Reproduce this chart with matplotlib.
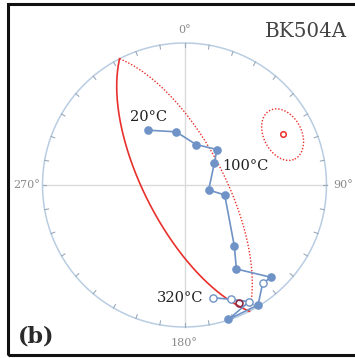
import numpy as np
import matplotlib.pyplot as plt
from matplotlib.patches import Rectangle

# demagnetisation steps (deg C), declination and inclination (negative = upper hemisphere)
temps = [20, 40, 60, 80, 100, 120, 140, 160, 180, 200, 220, 240, 260, 280, 300, 320]
decs = [326.3, 351.0, 15.9, 42.4, 54.1, 101.6, 103.9, 140.7, 148.3, 136.8,
        141.5, 148.5, 161.9, 151.0, 157.9, 166.0]
incs = [51.7, 58.9, 65.8, 62.3, 68.9, 75.9, 66.2, 43.9, 31.1, 11.8,
        -12.6, 1.0, 0.5, -6.7, -14.2, -19.3]
labelled = [20, 100, 320]

# remagnetisation circle pole and its confidence cone
pole_dec, pole_inc, pole_a95 = 62.8, 22.8, 13.0
# mean direction (open ring)
mean_dec, mean_inc = 155.1, -9.0

BLUE = '#6f93c6'
RED = '#e8302c'


def eqarea(dec, inc):
    d = np.radians(dec)
    i = np.radians(np.abs(inc))
    r = np.sqrt(1 - np.sin(i))
    return r * np.sin(d), r * np.cos(d)


def vec(dec, inc):
    d, i = np.radians(dec), np.radians(inc)
    return np.array([np.cos(i) * np.cos(d), np.cos(i) * np.sin(d), np.sin(i)])


def to_dirs(v):
    dec = np.degrees(np.arctan2(v[1], v[0])) % 360
    inc = np.degrees(np.arcsin(np.clip(v[2], -1, 1)))
    return dec, inc


fig = plt.figure(figsize=(3.55, 3.58), dpi=100)
R = 142.0
cx, cy = 184.5, 185.0
ax = fig.add_axes([0, 0, 1, 1])
ax.set_xlim(-cx / R, (355 - cx) / R)
ax.set_ylim((cy - 358) / R, cy / R)
ax.set_aspect('equal')
ax.axis('off')

# primitive, crosshair, ticks
t = np.linspace(0, 2 * np.pi, 400)
ax.plot(np.cos(t), np.sin(t), color='#b9cde2', lw=1.1, zorder=2)
ax.plot([-1, 1], [0, 0], color='#dadada', lw=1.0, zorder=1)
ax.plot([0, 0], [-1, 1], color='#dadada', lw=1.0, zorder=1)
for az in range(0, 360, 10):
    a = np.radians(az)
    ax.plot([0.972 * np.sin(a), np.sin(a)], [0.972 * np.cos(a), np.cos(a)],
            color='#9aaabb', lw=0.8, zorder=2)

lab = dict(color='#8a8a8a', fontsize=8, family='DejaVu Serif', ha='center', va='center')
ax.text(0, 1.09, '0°', **lab)
ax.text(1.115, 0, '90°', **lab)
ax.text(0, -1.113, '180°', **lab)
ax.text(-1.115, 0, '270°', **lab)

# great circle of the pole: lower half solid, upper half dotted
p = vec(pole_dec, pole_inc)
a = np.array([-np.sin(np.radians(pole_dec)), np.cos(np.radians(pole_dec)), 0.0])
b = np.cross(p, a)
for lo, hi in [(0, np.pi), (np.pi, 2 * np.pi)]:
    tt = np.linspace(lo, hi, 300)
    v = np.outer(a, np.cos(tt)) + np.outer(b, np.sin(tt))
    gd, gi = to_dirs(v)
    x, y = eqarea(gd, gi)
    if np.mean(gi) >= 0:
        ax.plot(x, y, color=RED, lw=1.2, zorder=3)
    else:
        ax.plot(x, y, color=RED, lw=1.0, ls=(0, (1, 1.3)), zorder=3)

# confidence cone around pole
al = np.radians(pole_a95)
tt = np.linspace(0, 2 * np.pi, 200)
v = np.outer(p, np.full_like(tt, np.cos(al))) + np.sin(al) * (np.outer(a, np.cos(tt)) + np.outer(b, np.sin(tt)))
ed, ei = to_dirs(v)
x, y = eqarea(ed, ei)
ax.plot(x, y, color=RED, lw=1.0, ls=(0, (1, 1.3)), zorder=3)
px, py = eqarea(pole_dec, pole_inc)
ax.plot(px, py, 'o', ms=4, mfc='white', mec=RED, mew=1.1, zorder=5)

# demag path
xs, ys = eqarea(np.array(decs), np.array(incs))
ax.plot(xs, ys, color=BLUE, lw=1.2, zorder=4)
for xi, yi, inc in zip(xs, ys, incs):
    if inc >= 0:
        ax.plot(xi, yi, 'o', ms=5.2, mfc=BLUE, mec=BLUE, zorder=5)
    else:
        ax.plot(xi, yi, 'o', ms=5.2, mfc='white', mec=BLUE, mew=1.0, zorder=5)

mx, my = eqarea(mean_dec, mean_inc)
ax.plot(mx, my, 'o', ms=5, mfc='none', mec='#8e2a45', mew=1.2, zorder=6)

offsets = {20: ((0.5, 9.5), 'center'), 100: ((6, -2), 'left'), 320: ((-6.5, 0), 'right')}
for T in labelled:
    k = temps.index(T)
    off, ha = offsets[T]
    ax.annotate(f'{T}°C', (xs[k], ys[k]), xytext=off, textcoords='offset points',
                ha=ha, va='center', fontsize=10.5, family='DejaVu Serif', color='#222222')

fig.text(0.977, 0.913, 'BK504A', ha='right', va='center', fontsize=14.3,
         family='DejaVu Serif', color='#444444')
fig.text(0.103, 0.06, '(b)', ha='center', va='center', fontsize=16,
         family='DejaVu Serif', weight='bold', color='#2a2a2a')

fig.add_artist(Rectangle((7.5 / 355, 3 / 358), 1.3, (355 - 4.3) / 358,
                         transform=fig.transFigure, fill=False, lw=2.2,
                         edgecolor='#111111', clip_on=False))

fig.savefig('out.png', dpi=100)
